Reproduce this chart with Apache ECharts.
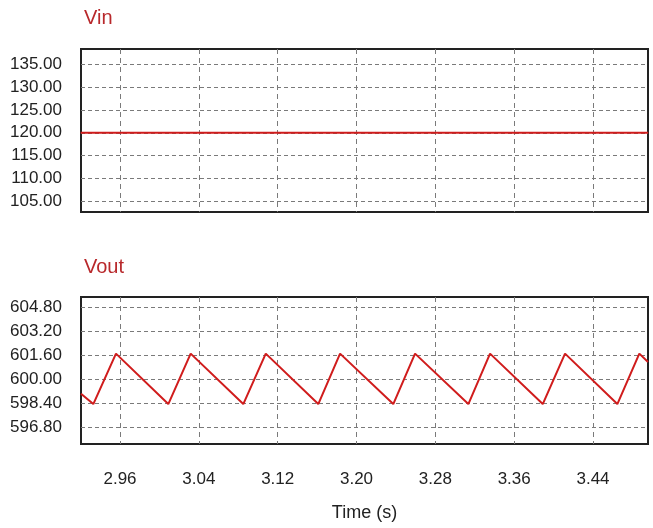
<!DOCTYPE html>
<html>
<head>
<meta charset="utf-8">
<script src="https://cdn.jsdelivr.net/npm/echarts@6/dist/echarts.min.js"></script>
<style>html,body{margin:0;padding:0;background:#fff}#c{width:653px;height:528px}</style>
</head>
<body>
<div id="c"></div>
<script>
// ---- data ----
const timeTicks = [2.96, 3.04, 3.12, 3.20, 3.28, 3.36, 3.44];
const vinTicks = [105, 110, 115, 120, 125, 130, 135];
const voutTicks = [596.8, 598.4, 600.0, 601.6, 603.2, 604.8];
const vinData = [[2.92, 120], [3.496, 120]];
const voutTime = [2.9204, 2.9329, 2.9559, 3.0090, 3.0317, 3.0851, 3.1079, 3.1612, 3.1833,
                  3.2373, 3.2594, 3.3135, 3.3355, 3.3890, 3.4116, 3.4647, 3.4870, 3.4958];
const voutValue = [599.04, 598.35, 601.70, 598.35, 601.70, 598.35, 601.70, 598.35, 601.70,
                   598.35, 601.70, 598.35, 601.70, 598.35, 601.70, 598.35, 601.70, 601.15];

const FONT = '"Liberation Sans Narrow", "Liberation Sans", Arial, sans-serif';
const RED = '#d01c1c';
const TITLE_RED = '#b8282b';
const GRIDC = '#7a7a7a';

const voutData = voutTime.map((t, i) => [t, voutValue[i]]);

function xAxisDef(idx, showLabels) {
  return {
    type: 'value', gridIndex: idx, min: 2.9204, max: 3.4958,
    axisLine: {show: false},
    axisTick: {show: false, customValues: timeTicks},
    axisLabel: {show: showLabels, customValues: timeTicks, formatter: v => v.toFixed(2),
                fontFamily: FONT, fontSize: 17, color: '#222', margin: 27},
    splitLine: {show: true, lineStyle: {color: GRIDC, type: [5, 4], width: 1}},
    name: showLabels ? 'Time (s)' : '', nameLocation: 'middle', nameGap: 60,
    nameTextStyle: {fontFamily: FONT, fontSize: 18, color: '#222'}
  };
}
function yAxisDef(idx, min, max, ticks) {
  return {
    type: 'value', gridIndex: idx, min: min, max: max,
    axisLine: {show: false},
    axisTick: {show: false, customValues: ticks},
    axisLabel: {customValues: ticks, formatter: v => v.toFixed(2),
                fontFamily: FONT, fontSize: 17, color: '#222', margin: 19},
    splitLine: {show: true, lineStyle: {color: GRIDC, type: [4, 3], width: 1}}
  };
}

const chart = echarts.init(document.getElementById('c'), null, {renderer: 'canvas'});
chart.setOption({
  backgroundColor: '#fff',
  animation: false,
  title: [
    {text: 'Vin', left: 79, top: 3, textStyle: {fontFamily: FONT, fontSize: 20, fontWeight: 'normal', color: TITLE_RED}},
    {text: 'Vout', left: 79, top: 252, textStyle: {fontFamily: FONT, fontSize: 20, fontWeight: 'normal', color: TITLE_RED}}
  ],
  grid: [
    {left: 81, right: 5, top: 49, height: 163, show: true, borderColor: '#222', borderWidth: 2, backgroundColor: 'transparent'},
    {left: 81, right: 5, top: 297, height: 147, show: true, borderColor: '#222', borderWidth: 2, backgroundColor: 'transparent'}
  ],
  xAxis: [xAxisDef(0, false), xAxisDef(1, true)],
  yAxis: [yAxisDef(0, 102.55, 138.45, vinTicks), yAxisDef(1, 595.7, 605.46, voutTicks)],
  series: [
    {type: 'line', xAxisIndex: 0, yAxisIndex: 0, data: vinData, showSymbol: false,
     lineStyle: {color: RED, width: 2}},
    {type: 'line', xAxisIndex: 1, yAxisIndex: 1, data: voutData, showSymbol: false,
     lineStyle: {color: RED, width: 2}}
  ]
});
</script>
</body>
</html>
